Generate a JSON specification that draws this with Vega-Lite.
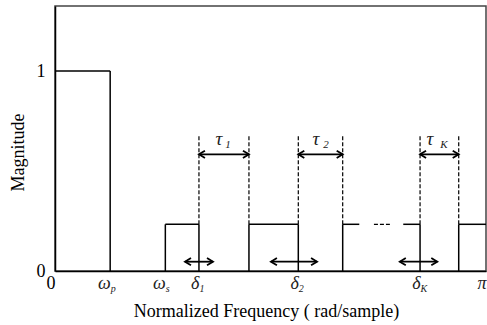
{
  "$schema": "https://vega.github.io/schema/vega-lite/v6.json",
  "width": 431,
  "height": 265,
  "autosize": {"type": "none"},
  "padding": {"left": 55, "top": 6, "right": 1, "bottom": 54},
  "config": {
    "view": {"stroke": "#444", "strokeWidth": 1.5},
    "font": "Liberation Serif",
    "axis": {"grid": false, "ticks": false, "domainColor": "black", "domainWidth": 1.5, "labelFont": "Liberation Serif", "titleFont": "Liberation Serif"}
  },
  "datasets": {
    "solid": [
      {"x1": 0, "x2": 0.128, "y1": 1, "y2": 1},
      {"x1": 0.128, "x2": 0.128, "y1": 0, "y2": 1},
      {"x1": 0.256, "x2": 0.256, "y1": 0, "y2": 0.2335},
      {"x1": 0.256, "x2": 0.334, "y1": 0.2335, "y2": 0.2335},
      {"x1": 0.334, "x2": 0.334, "y1": 0, "y2": 0.2335},
      {"x1": 0.45, "x2": 0.45, "y1": 0, "y2": 0.2335},
      {"x1": 0.45, "x2": 0.5645, "y1": 0.2335, "y2": 0.2335},
      {"x1": 0.5645, "x2": 0.5645, "y1": 0, "y2": 0.2335},
      {"x1": 0.6675, "x2": 0.6675, "y1": 0, "y2": 0.2335},
      {"x1": 0.6675, "x2": 0.706, "y1": 0.2335, "y2": 0.2335},
      {"x1": 0.808, "x2": 0.847, "y1": 0.2335, "y2": 0.2335},
      {"x1": 0.847, "x2": 0.847, "y1": 0, "y2": 0.2335},
      {"x1": 0.9367, "x2": 0.9367, "y1": 0, "y2": 0.2335},
      {"x1": 0.9367, "x2": 1, "y1": 0.2335, "y2": 0.2335}
    ],
    "dashed": [
      {"x1": 0.334, "x2": 0.334, "y1": 0.2335, "y2": 0.68},
      {"x1": 0.45, "x2": 0.45, "y1": 0.2335, "y2": 0.68},
      {"x1": 0.5645, "x2": 0.5645, "y1": 0.2335, "y2": 0.68},
      {"x1": 0.6675, "x2": 0.6675, "y1": 0.2335, "y2": 0.68},
      {"x1": 0.847, "x2": 0.847, "y1": 0.2335, "y2": 0.68},
      {"x1": 0.9367, "x2": 0.9367, "y1": 0.2335, "y2": 0.68},
      {"x1": 0.74, "x2": 0.777, "y1": 0.2335, "y2": 0.2335}
    ],
    "arrows": [
      {"x1": 0.334, "x2": 0.45, "y": 0.5835},
      {"x1": 0.5645, "x2": 0.6675, "y": 0.5835},
      {"x1": 0.847, "x2": 0.9367, "y": 0.5835},
      {"x1": 0.3016, "x2": 0.3666, "y": 0.0465},
      {"x1": 0.501, "x2": 0.608, "y": 0.0465},
      {"x1": 0.8, "x2": 0.887, "y": 0.0465}
    ],
    "taus": [
      {"x": 0.3805, "y": 0.66, "t": "τ", "sx": 0.4014, "sy": 0.628, "s": "1"},
      {"x": 0.6056, "y": 0.66, "t": "τ", "sx": 0.6288, "sy": 0.628, "s": "2"},
      {"x": 0.87, "y": 0.66, "t": "τ", "sx": 0.9026, "sy": 0.628, "s": "K"}
    ],
    "ticks": [
      {"x": 0.128}, {"x": 0.256}, {"x": 0.334}, {"x": 0.5645}, {"x": 0.847}
    ]
  },
  "layer": [
    {
      "layer": [
        {
          "data": {"name": "solid"},
          "mark": {"type": "rule", "color": "black", "strokeWidth": 1.5},
          "encoding": {
            "x": {"field": "x1", "type": "quantitative", "scale": {"domain": [0, 1], "nice": false},
              "axis": {
                "values": [0, 0.128, 0.256, 0.334, 0.5645, 0.847, 1],
                "labelExpr": "datum.value == 0 ? '0' : datum.value < 0.2 ? 'ω' : datum.value < 0.3 ? 'ω' : datum.value == 1 ? 'π' : 'δ'",
                "labelAlign": "right",
                "labelDx": -1,
                "labelBaseline": "alphabetic",
                "labelPadding": 17,
                "labelFontSize": 18,
                "labelFontStyle": {"condition": {"test": "datum.value == 0", "value": "normal"}, "value": "italic"},
                "labelColor": {"condition": {"test": "datum.value == 0", "value": "black"}, "value": "#222"},
                "labelFlush": false,
                "labelOverlap": false,
                "title": "Normalized Frequency ( rad/sample)",
                "titleFontSize": 18,
                "titleFontWeight": "normal",
                "titleColor": "black",
                "titleBaseline": "alphabetic",
                "titleX": 211,
                "titleY": 45
              }
            },
            "x2": {"field": "x2"},
            "y": {"field": "y1", "type": "quantitative", "scale": {"domain": [0, 1.325], "nice": false},
              "axis": {
                "values": [0, 1],
                "format": "d",
                "labelFontSize": 18,
                "labelColor": "black",
                "labelPadding": 10,
                "labelFlush": false,
                "title": "Magnitude",
                "titleFontSize": 18,
                "titleFontWeight": "normal",
                "titleColor": "black",
                "titleBaseline": "middle",
                "titleX": -37,
                "titleY": 146
              }
            },
            "y2": {"field": "y2"}
          }
        },
        {
          "data": {"name": "dashed"},
          "mark": {"type": "rule", "color": "black", "strokeWidth": 1.2, "strokeDash": [4, 2]},
          "encoding": {
            "x": {"field": "x1", "type": "quantitative"},
            "x2": {"field": "x2"},
            "y": {"field": "y1", "type": "quantitative"},
            "y2": {"field": "y2"}
          }
        },
        {
          "data": {"name": "arrows"},
          "mark": {"type": "rule", "color": "black", "strokeWidth": 1.8},
          "encoding": {
            "x": {"field": "x1", "type": "quantitative"},
            "x2": {"field": "x2"},
            "y": {"field": "y", "type": "quantitative"}
          }
        },
        {
          "data": {"name": "arrows"},
          "mark": {"type": "point", "shape": "M1,-0.6L0,0L1,0.6", "filled": false, "stroke": "black", "strokeWidth": 1.8, "size": 144, "opacity": 1},
          "encoding": {
            "x": {"field": "x1", "type": "quantitative"},
            "y": {"field": "y", "type": "quantitative"}
          }
        },
        {
          "data": {"name": "arrows"},
          "mark": {"type": "point", "shape": "M-1,-0.6L0,0L-1,0.6", "filled": false, "stroke": "black", "strokeWidth": 1.8, "size": 144, "opacity": 1},
          "encoding": {
            "x": {"field": "x2", "type": "quantitative"},
            "y": {"field": "y", "type": "quantitative"}
          }
        },
        {
          "data": {"name": "taus"},
          "mark": {"type": "text", "font": "Liberation Serif", "fontStyle": "italic", "fontSize": 19, "color": "#222", "baseline": "middle", "align": "center"},
          "encoding": {
            "x": {"field": "x", "type": "quantitative"},
            "y": {"field": "y", "type": "quantitative"},
            "text": {"field": "t"}
          }
        },
        {
          "data": {"name": "taus"},
          "mark": {"type": "text", "font": "Liberation Serif", "fontStyle": "italic", "fontSize": 11, "color": "#222", "baseline": "middle", "align": "center"},
          "encoding": {
            "x": {"field": "sx", "type": "quantitative"},
            "y": {"field": "sy", "type": "quantitative"},
            "text": {"field": "s"}
          }
        }
      ]
    },
    {
      "data": {"name": "ticks"},
      "mark": {"type": "point", "opacity": 0},
      "encoding": {
        "x": {"field": "x", "type": "quantitative", "scale": {"domain": [0, 1], "nice": false},
          "axis": {
            "orient": "bottom",
            "values": [0.128, 0.256, 0.334, 0.5645, 0.847],
            "labelExpr": "datum.value < 0.2 ? 'p' : datum.value < 0.3 ? 's' : datum.value < 0.4 ? '1' : datum.value < 0.6 ? '2' : 'K'",
            "domain": false,
            "labelAlign": "left",
            "labelDx": 5,
            "labelBaseline": "alphabetic",
            "labelPadding": 20,
            "labelFontSize": 10,
            "labelFontStyle": "italic",
            "labelColor": "#222",
            "labelFlush": false,
            "labelOverlap": false,
            "title": null
          }
        }
      }
    }
  ],
  "resolve": {"scale": {"x": "independent"}}
}
